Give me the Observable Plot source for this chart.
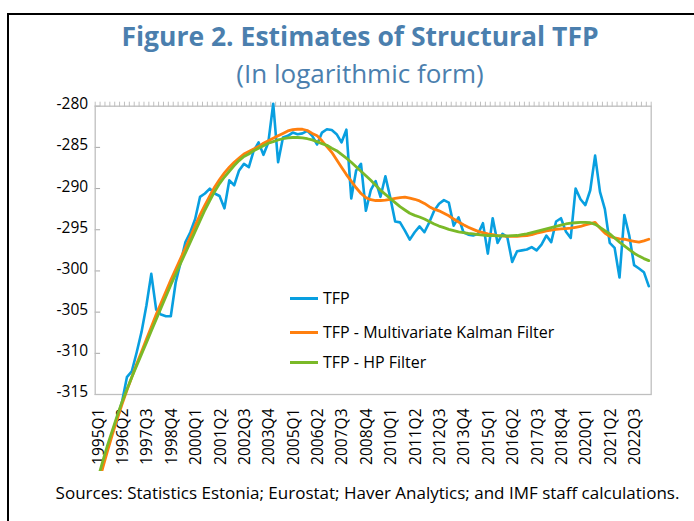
<!DOCTYPE html>
<html><head><meta charset="utf-8">
<script src="https://cdn.jsdelivr.net/npm/d3@7"></script>
<script src="https://cdn.jsdelivr.net/npm/@observablehq/plot@0.6"></script>
<style>
body{margin:0;background:#fff;font-family:"Open Sans",sans-serif;}
#wrap{position:relative;width:694px;height:521px;overflow:hidden;background:#fff;}
#frame{position:absolute;left:7px;top:13px;width:740px;height:580px;border:2px solid #000;box-sizing:border-box;}
.ttl{position:absolute;left:0;width:720px;text-align:center;color:#4b7fae;white-space:nowrap;}
#title{top:18px;font-size:26.5px;font-weight:700;line-height:36px;}
#subtitle{top:55px;font-size:26px;font-weight:400;line-height:36px;}
#chart{position:absolute;left:0;top:90px;}
#caption{position:absolute;left:0;width:735px;top:482px;text-align:center;font-size:17px;line-height:22px;color:#000;white-space:nowrap;}
.leg{position:absolute;left:290px;font-size:16px;line-height:20px;color:#000;white-space:nowrap;}
.sw{display:inline-block;width:28px;height:2.6px;vertical-align:middle;margin-right:5px;position:relative;top:-1px;}
</style>
</head><body>
<div id="wrap">
  <div id="frame"></div>
  <div id="title" class="ttl">Figure 2. Estimates of Structural TFP</div>
  <div id="subtitle" class="ttl">(In logarithmic form)</div>
  <div id="chart"></div>
  <div id="legend"></div>
  <div id="caption">Sources: Statistics Estonia; Eurostat; Haver Analytics; and IMF staff calculations.</div>
</div>
<script>
// Categories: quarters 1995Q1 .. 2023Q2
const startYear = 1995;
const nQuarters = 114;
const quarters = [];
for (let k = 0; k < nQuarters; k++) quarters.push((startYear + Math.floor(k / 4)) + "Q" + (k % 4 + 1));

// Tick labels
const yTicks = [-315, -310, -305, -300, -295, -290, -285, -280];
const xLabelQuarters = ["1995Q1","1996Q2","1997Q3","1998Q4","2000Q1","2001Q2","2002Q3","2003Q4","2005Q1","2006Q2","2007Q3","2008Q4","2010Q1","2011Q2","2012Q3","2013Q4","2015Q1","2016Q2","2017Q3","2018Q4","2020Q1","2021Q2","2022Q3"];

// Series names
const seriesNames = ["TFP", "TFP - Multivariate Kalman Filter", "TFP - HP Filter"];

// TFP (blue)
const tfp = [
-325.8,-323.6,-321.5,-319.6,-317.8,-315.9,-312.9,-312.2,-309.9,-307.4,
-304.2,-300.35,-304.7,-305.3,-305.5,-305.5,-301.4,-299.0,-296.5,-295.3,
-293.7,-291.0,-290.6,-290.0,-290.6,-290.9,-292.4,-289.0,-289.6,-287.8,
-287.0,-287.4,-285.4,-284.4,-285.9,-284.4,-279.7,-286.8,-283.8,-283.6,
-283.2,-283.4,-283.3,-283.0,-283.6,-284.65,-283.2,-282.8,-282.9,-283.4,
-284.4,-282.85,-291.2,-287.8,-287.0,-292.7,-290.2,-289.1,-291.0,-288.5,
-291.1,-294.0,-294.1,-295.1,-296.2,-295.3,-294.6,-295.3,-294.1,-292.7,
-291.85,-291.4,-291.7,-294.5,-293.5,-295.3,-295.6,-295.7,-295.5,-294.2,
-297.9,-293.6,-296.6,-295.5,-295.9,-298.9,-297.6,-297.5,-297.4,-297.1,
-297.5,-296.8,-295.7,-296.5,-294.0,-293.6,-295.2,-296.0,-290.0,-291.3,
-292.0,-290.2,-286.0,-290.4,-292.5,-296.6,-297.2,-300.8,-293.2,-295.7,
-299.3,-299.7,-300.15,-301.85
];

// TFP - Multivariate Kalman Filter (orange)
const kalman = [
-326.3,-324.0,-321.9,-319.9,-318.0,-316.2,-314.5,-312.9,-311.3,-309.8,
-308.3,-306.8,-305.3,-303.9,-302.5,-301.1,-299.8,-298.5,-297.2,-295.9,
-294.5,-293.2,-292.0,-290.9,-289.8,-288.9,-288.1,-287.4,-286.8,-286.3,
-285.8,-285.5,-285.2,-284.9,-284.5,-284.2,-283.9,-283.6,-283.3,-283.0,
-282.85,-282.8,-282.8,-282.95,-283.3,-283.6,-284.2,-284.9,-285.6,-286.5,
-287.4,-288.3,-289.1,-289.9,-290.6,-291.1,-291.35,-291.45,-291.45,-291.4,
-291.3,-291.2,-291.1,-291.05,-291.15,-291.3,-291.5,-291.8,-292.2,-292.5,
-292.7,-293.0,-293.3,-293.7,-294.05,-294.4,-294.7,-294.95,-295.2,-295.35,
-295.5,-295.6,-295.7,-295.75,-295.8,-295.8,-295.8,-295.75,-295.7,-295.6,
-295.4,-295.3,-295.15,-295.05,-294.95,-294.9,-294.85,-294.8,-294.7,-294.6,
-294.4,-294.25,-294.1,-294.8,-295.4,-295.8,-296.0,-296.1,-296.15,-296.3,
-296.4,-296.5,-296.35,-296.15
];

// TFP - HP Filter (green)
const hp = [
-325.3,-323.2,-321.2,-319.4,-317.6,-315.9,-314.4,-312.9,-311.5,-310.1,
-308.7,-307.3,-305.9,-304.5,-303.1,-301.7,-300.4,-299.1,-297.8,-296.5,
-295.2,-293.9,-292.6,-291.45,-290.35,-289.4,-288.6,-287.9,-287.2,-286.6,
-286.1,-285.8,-285.4,-285.1,-284.8,-284.5,-284.3,-284.1,-283.95,-283.85,
-283.8,-283.8,-283.85,-283.95,-284.1,-284.3,-284.55,-284.75,-285.1,-285.4,
-285.85,-286.3,-286.8,-287.35,-287.9,-288.45,-289.0,-289.6,-290.2,-290.7,
-291.2,-291.7,-292.2,-292.6,-293.0,-293.25,-293.45,-293.7,-294.0,-294.3,
-294.55,-294.75,-294.95,-295.1,-295.25,-295.35,-295.45,-295.5,-295.6,-295.65,
-295.7,-295.72,-295.75,-295.75,-295.75,-295.72,-295.7,-295.6,-295.5,-295.35,
-295.2,-295.05,-294.9,-294.75,-294.6,-294.45,-294.3,-294.2,-294.15,-294.1,
-294.1,-294.15,-294.35,-294.7,-295.1,-295.5,-296.0,-296.5,-296.95,-297.4,
-297.85,-298.2,-298.5,-298.75
];

const colors = ["#089fe0", "#ff7f0e", "#7ab928"];

const labelIdx = xLabelQuarters.map(q => quarters.indexOf(q));
const boundaryTicks = d3.range(-0.5, quarters.length, 1);
const toRows = arr => arr.map((v, i) => ({i, v}));

const chart = Plot.plot({
  width: 694,
  height: 381,
  marginTop: 15.7,
  marginBottom: 77,
  marginLeft: 94.7,
  marginRight: 43.3,
  style: {fontFamily: "Open Sans", fontSize: "15.5px", color: "#000", background: "transparent", overflow: "hidden"},
  x: {type: "linear", domain: [-0.5, quarters.length - 0.5]},
  y: {domain: [-315, -280]},
  marks: [
    Plot.ruleY(yTicks, {x1: -0.5, x2: 0.6, stroke: "#a6a6a6", strokeWidth: 1}),
    Plot.frame({stroke: "#bfbfbf", strokeWidth: 1.3}),
    Plot.axisX({anchor: "top", ticks: boundaryTicks, tickFormat: () => "", tickSize: 5, stroke: "#bfbfbf", label: null}),
    Plot.axisX({anchor: "bottom", ticks: labelIdx, tickFormat: i => quarters[i], tickSize: 0, tickPadding: 14, tickRotate: -90, label: null, fill: "#000", fontSize: "15.5px", dx: 1}),
    Plot.axisY({ticks: yTicks, tickSize: 0, tickPadding: 7, tickFormat: d => String(d), label: null, fill: "#000", fontSize: "15.5px", dy: -2}),
    Plot.line(toRows(tfp), {x: "i", y: "v", stroke: colors[0], strokeWidth: 2.6}),
    Plot.line(toRows(kalman), {x: "i", y: "v", stroke: colors[1], strokeWidth: 2.8}),
    Plot.line(toRows(hp), {x: "i", y: "v", stroke: colors[2], strokeWidth: 2.8})
  ]
});
document.getElementById("chart").appendChild(chart);

// Legend
const legTops = [288, 322, 352];
const leg = document.getElementById("legend");
seriesNames.forEach((name, k) => {
  const d = document.createElement("div");
  d.className = "leg";
  d.style.top = legTops[k] + "px";
  const sw = document.createElement("span");
  sw.className = "sw";
  sw.style.background = colors[k];
  d.appendChild(sw);
  d.appendChild(document.createTextNode(name));
  leg.appendChild(d);
});
</script>
</body></html>
